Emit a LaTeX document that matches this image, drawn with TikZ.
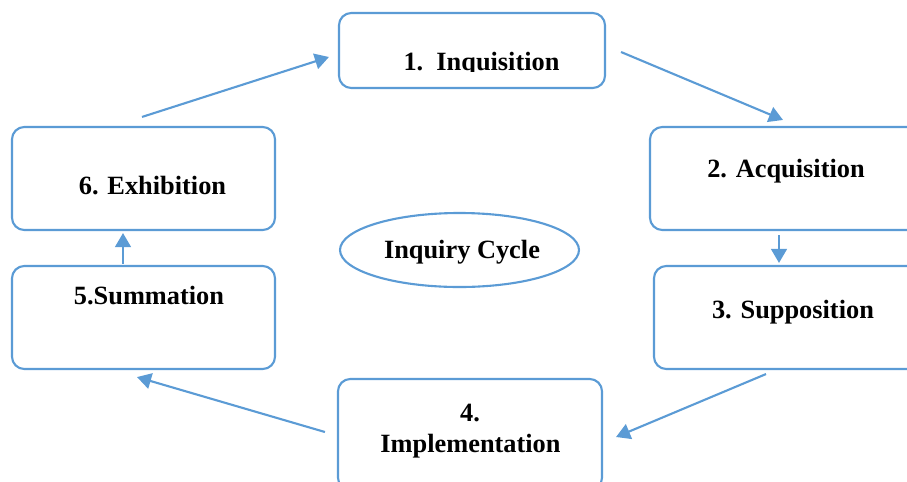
\documentclass[tikz,border=0pt]{standalone}
\usepackage{fontspec}
\setmainfont{Liberation Serif}
\usetikzlibrary{calc,shapes.geometric,arrows.meta}
\definecolor{cycblue}{RGB}{91,155,213}
\tikzset{
  stage/.style={draw=cycblue, line width=1.2pt, rounded corners=7pt, inner sep=0pt},
  stagetext/.style={anchor=base, font=\fontsize{15}{18}\selectfont\bfseries},
  flow/.style={draw=cycblue, line width=1.2pt, -{Triangle[length=8pt,width=9pt]}}
}
\begin{document}
\begin{tikzpicture}[x=0.02cm,y=-0.02cm]
\clip (0,0) rectangle (907,481);
% boxes
\node[stage, minimum width=266*0.02cm, minimum height=75*0.02cm] (inq) at (472,50.5) {};
\node[stage, minimum width=270*0.02cm, minimum height=103*0.02cm] (acq) at (785,178.5) {};
\node[stage, minimum width=271*0.02cm, minimum height=103*0.02cm] (sup) at (789.5,317.5) {};
\node[stage, minimum width=264*0.02cm, minimum height=111*0.02cm] (imp) at (470,434.5) {};
\node[stage, minimum width=263*0.02cm, minimum height=103*0.02cm] (sum) at (143.5,317.5) {};
\node[stage, minimum width=263*0.02cm, minimum height=103*0.02cm] (exh) at (143.5,178.5) {};
\node[ellipse, draw=cycblue, line width=1.2pt, minimum width=239*0.02cm, minimum height=74*0.02cm] (cyc) at (459.5,250) {};
% texts
\begin{scope}
\clip (339,13) rectangle (605,71);
\node[stagetext] at (481.5,70) {1.\ \ Inquisition};
\end{scope}
\node[stagetext] at (786,177) {2. Acquisition};
\node[stagetext] at (793,318) {3. Supposition};
\node[stagetext] at (470,421) {4.};
\node[stagetext] at (470.5,452) {Implementation};
\node[stagetext] at (149,304) {5.Summation};
\node[stagetext] at (152.5,194) {6. Exhibition};
\node[stagetext] at (462,258) {Inquiry Cycle};
% arrows
\draw[flow] ($(exh.north)+(-1.5,-9)$) -- ($(inq.west)+(-9,6.5)$);
\draw[flow] ($(inq.east)+(15,1.5)$) -- ($(acq.north)+(-2,-6)$);
\draw[flow] ($(acq.south)+(-6,4)$) -- ($(sup.north)+(-10.5,-2)$);
\draw[flow] ($(sup.south)+(-23.5,4)$) -- ($(imp.east)+(13,2.5)$);
\draw[flow] ($(imp.west)+(-12,-2.5)$) -- ($(sum.south)+(-6.5,7)$);
\draw[flow] ($(sum.north)+(-20.5,-1)$) -- ($(exh.south)+(-20.5,2)$);
\end{tikzpicture}
\end{document}
